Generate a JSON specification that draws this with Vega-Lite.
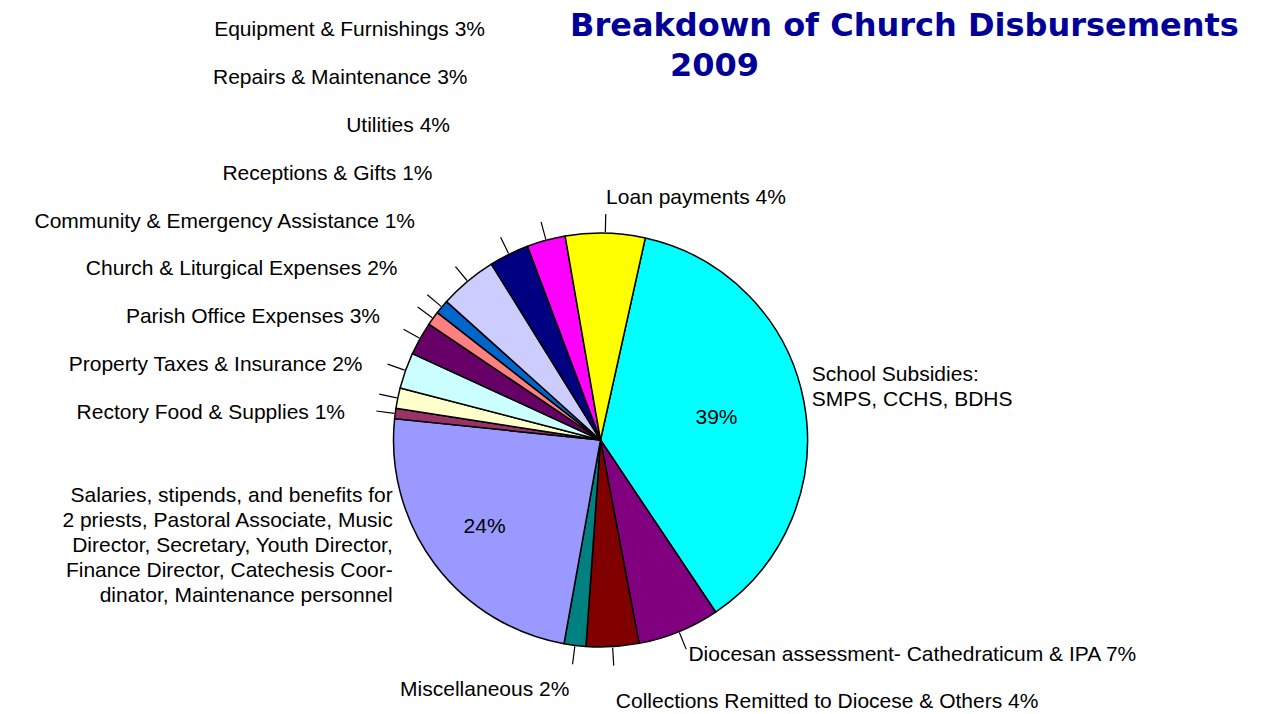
{
  "$schema": "https://vega.github.io/schema/vega-lite/v6.json",
  "width": 1201,
  "height": 680,
  "autosize": {"type": "none"},
  "padding": {"left": 0, "top": 100, "right": 60, "bottom": 0},
  "background": "white",
  "config": {
    "view": {"stroke": null},
    "text": {"font": "Liberation Sans", "fontSize": 21, "color": "black", "lineBreak": "\n", "lineHeight": 25}
  },
  "title": {
    "text": ["Breakdown of Church Disbursements", "\u2800\u2800\u2800\u28002009"],
    "frame": "group",
    "anchor": "start",
    "align": "left",
    "dx": 570,
    "offset": -64,
    "limit": 900,
    "font": "DejaVu Sans",
    "fontSize": 32,
    "fontWeight": "bold",
    "color": "#000099",
    "lineHeight": 40
  },
  "data": {
    "values": [
      {"rank": 1, "category": "School Subsidies", "value": 37.1, "label": "School Subsidies:\nSMPS, CCHS, BDHS", "inner": "39%"},
      {"rank": 2, "category": "Diocesan assessment", "value": 6.4, "label": "Diocesan assessment- Cathedraticum & IPA  7%"},
      {"rank": 3, "category": "Collections Remitted", "value": 4.1, "label": "Collections Remitted to Diocese & Others  4%"},
      {"rank": 4, "category": "Miscellaneous", "value": 1.7, "label": "Miscellaneous  2%"},
      {"rank": 5, "category": "Salaries", "value": 23.8, "label": "Salaries, stipends, and benefits for\n2 priests, Pastoral Associate, Music\nDirector, Secretary, Youth Director,\nFinance Director, Catechesis Coor-\ndinator, Maintenance personnel", "inner": "24%"},
      {"rank": 6, "category": "Rectory Food & Supplies", "value": 0.8, "label": "Rectory Food & Supplies  1%"},
      {"rank": 7, "category": "Property Taxes & Insurance", "value": 1.6, "label": "Property Taxes & Insurance 2%"},
      {"rank": 8, "category": "Parish Office Expenses", "value": 2.8, "label": "Parish Office Expenses 3%"},
      {"rank": 9, "category": "Church & Liturgical Expenses", "value": 2.6, "label": "Church & Liturgical Expenses  2%"},
      {"rank": 10, "category": "Community & Emergency Assistance", "value": 1.1, "label": "Community & Emergency Assistance  1%"},
      {"rank": 11, "category": "Receptions & Gifts", "value": 1.1, "label": "Receptions & Gifts  1%"},
      {"rank": 12, "category": "Utilities", "value": 4.5, "label": "Utilities 4%"},
      {"rank": 13, "category": "Repairs & Maintenance", "value": 3.1, "label": "Repairs & Maintenance 3%"},
      {"rank": 14, "category": "Equipment & Furnishings", "value": 3.0, "label": "Equipment & Furnishings 3%"},
      {"rank": 15, "category": "Loan payments", "value": 6.2, "label": "Loan payments  4%"}
    ]
  },
  "layer": [
    {
      "mark": {"type": "arc", "outerRadius": 207, "stroke": "black", "strokeWidth": 1.5, "strokeJoin": "round"},
      "encoding": {
        "theta": {"field": "value", "type": "quantitative", "stack": true, "scale": {"range": [0.2182, 6.5014]}},
        "order": {"field": "rank", "type": "quantitative"},
        "color": {
          "field": "category",
          "type": "nominal",
          "legend": null,
          "scale": {
            "domain": ["School Subsidies", "Diocesan assessment", "Collections Remitted", "Miscellaneous", "Salaries", "Rectory Food & Supplies", "Property Taxes & Insurance", "Parish Office Expenses", "Church & Liturgical Expenses", "Community & Emergency Assistance", "Receptions & Gifts", "Utilities", "Repairs & Maintenance", "Equipment & Furnishings", "Loan payments"],
            "range": ["#00FFFF", "#800080", "#800000", "#008080", "#9999FF", "#993366", "#FFFFCC", "#CCFFFF", "#660066", "#FF8080", "#0066CC", "#CCCCFF", "#000080", "#FF00FF", "#FFFF00"]
          }
        }
      }
    },
    {
      "mark": {"type": "arc", "innerRadius": 208, "outerRadius": 226, "padAngle": 3, "filled": false, "stroke": "black", "strokeWidth": 1.2},
      "encoding": {
        "theta": {"field": "value", "type": "quantitative", "stack": true, "scale": {"range": [0.2182, 6.5014]}},
        "order": {"field": "rank", "type": "quantitative"},
        "strokeOpacity": {"condition": {"test": "datum.category === 'School Subsidies' || datum.category === 'Salaries'", "value": 0}, "value": 1}
      }
    },
    {
      "mark": {"type": "text", "radius": 118, "align": "center", "baseline": "middle"},
      "encoding": {
        "theta": {"field": "value", "type": "quantitative", "stack": true, "scale": {"range": [0.2182, 6.5014]}},
        "order": {"field": "rank", "type": "quantitative"},
        "text": {"condition": {"test": "datum.category === 'School Subsidies'", "field": "inner"}, "value": ""}
      }
    },
    {
      "mark": {"type": "text", "radius": 145, "align": "center", "baseline": "middle"},
      "encoding": {
        "theta": {"field": "value", "type": "quantitative", "stack": true, "scale": {"range": [0.2182, 6.5014]}},
        "order": {"field": "rank", "type": "quantitative"},
        "text": {"condition": {"test": "datum.category === 'Salaries'", "field": "inner"}, "value": ""}
      }
    },
    {
      "mark": {"type": "text", "radius": 215, "align": "left", "baseline": "middle", "dy": -25},
      "encoding": {
        "theta": {"field": "value", "type": "quantitative", "stack": true, "scale": {"range": [0.2182, 6.5014]}},
        "order": {"field": "rank", "type": "quantitative"},
        "text": {"condition": {"test": "datum.category === 'School Subsidies'", "field": "label"}, "value": ""}
      }
    },
    {
      "mark": {"type": "text", "radius": 232, "align": "left", "baseline": "middle"},
      "encoding": {
        "theta": {"field": "value", "type": "quantitative", "stack": true, "scale": {"range": [0.2182, 6.5014]}},
        "order": {"field": "rank", "type": "quantitative"},
        "text": {"condition": {"test": "datum.category === 'Diocesan assessment'", "field": "label"}, "value": ""}
      }
    },
    {
      "mark": {"type": "text", "radius": 242, "align": "left", "baseline": "middle"},
      "encoding": {
        "theta": {"field": "value", "type": "quantitative", "stack": true, "scale": {"range": [0.2182, 6.5014]}},
        "order": {"field": "rank", "type": "quantitative"},
        "text": {"condition": {"test": "datum.category === 'Loan payments'", "field": "label"}, "value": ""}
      }
    },
    {
      "mark": {"type": "text", "radius": 262, "align": "left", "baseline": "middle"},
      "encoding": {
        "theta": {"field": "value", "type": "quantitative", "stack": true, "scale": {"range": [0.2182, 6.5014]}},
        "order": {"field": "rank", "type": "quantitative"},
        "text": {"condition": {"test": "datum.category === 'Collections Remitted'", "field": "label"}, "value": ""}
      }
    },
    {
      "mark": {"type": "text", "radius": 252, "align": "right", "baseline": "middle"},
      "encoding": {
        "theta": {"field": "value", "type": "quantitative", "stack": true, "scale": {"range": [0.2182, 6.5014]}},
        "order": {"field": "rank", "type": "quantitative"},
        "text": {"condition": {"test": "datum.category === 'Miscellaneous'", "field": "label"}, "value": ""}
      }
    },
    {
      "mark": {"type": "text", "radius": 260, "align": "right", "baseline": "middle", "dy": -100},
      "encoding": {
        "theta": {"field": "value", "type": "quantitative", "stack": true, "scale": {"range": [0.2182, 6.5014]}},
        "order": {"field": "rank", "type": "quantitative"},
        "text": {"condition": {"test": "datum.category === 'Salaries'", "field": "label"}, "value": ""}
      }
    },
    {
      "transform": [
        {"filter": {"field": "category", "oneOf": ["Rectory Food & Supplies", "Property Taxes & Insurance", "Parish Office Expenses", "Church & Liturgical Expenses", "Community & Emergency Assistance", "Receptions & Gifts", "Utilities", "Repairs & Maintenance", "Equipment & Furnishings"]}}
      ],
      "mark": {"type": "text", "align": "right", "baseline": "middle"},
      "encoding": {
        "x": {
          "field": "category",
          "type": "ordinal",
          "axis": null,
          "scale": {"type": "point", "padding": 0, "domain": ["Rectory Food & Supplies", "Property Taxes & Insurance", "Parish Office Expenses", "Church & Liturgical Expenses", "Community & Emergency Assistance", "Receptions & Gifts", "Utilities", "Repairs & Maintenance", "Equipment & Furnishings"], "range": [345, 485]}
        },
        "y": {
          "field": "category",
          "type": "ordinal",
          "axis": null,
          "scale": {"type": "point", "padding": 0, "domain": ["Rectory Food & Supplies", "Property Taxes & Insurance", "Parish Office Expenses", "Church & Liturgical Expenses", "Community & Emergency Assistance", "Receptions & Gifts", "Utilities", "Repairs & Maintenance", "Equipment & Furnishings"], "range": [313, -70]}
        },
        "text": {"field": "label"}
      }
    }
  ]
}
